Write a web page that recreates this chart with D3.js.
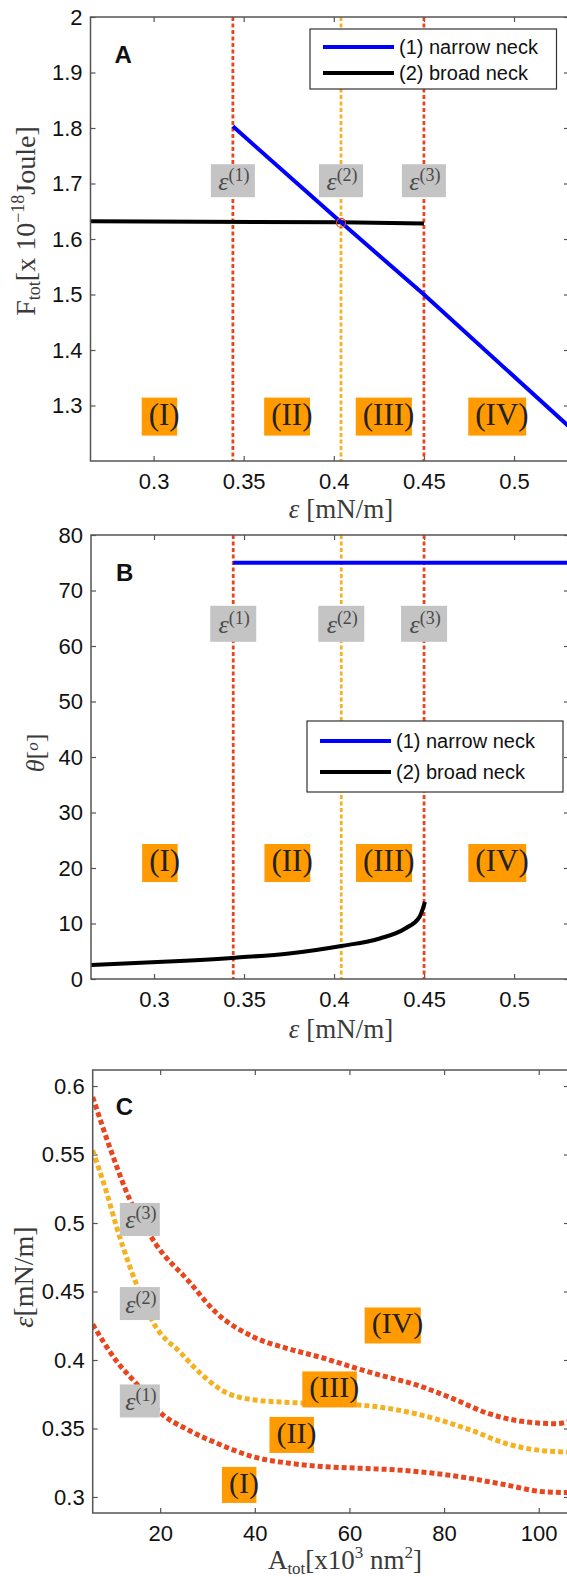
<!doctype html>
<meta charset="utf-8">
<title>Neck free energy and angle vs tension</title>
<script src="https://cdn.jsdelivr.net/npm/d3@7"></script>
<style>
body { margin: 0; background: #fff; }
</style>
<body>
<script>
// critical tensions eps(1..3) and the four regions between them
var epsCrit = [0.344, 0.404, 0.45];
var critNames = ["(1)", "(2)", "(3)"];
var regionNames = ["(I)", "(II)", "(III)", "(IV)"];
var regionEps = [0.3059, 0.3767, 0.4304, 0.4933];
var legendNames = ["(1) narrow neck", "(2) broad neck"];
var epsTicks = [0.3, 0.35, 0.4, 0.45, 0.5];

// panel A: total free energy [x 1e-18 J]
var fNarrowEps = [0.344, 0.404, 0.45, 0.5305];
var fNarrowVal = [1.803, 1.630, 1.500, 1.262];
var fBroadEps = [0.265, 0.404, 0.45];
var fBroadVal = [1.632, 1.630, 1.628];
var fCross = [0.404, 1.629];
var fTicks = [1.3, 1.4, 1.5, 1.6, 1.7, 1.8, 1.9, 2];
var fCritY = 1.705, fRegionY = 1.28;

// panel B: contact angle theta [deg]
var thNarrowEps = [0.344, 0.5305];
var thNarrowVal = [75, 75];
var thBroadEps = [0.265, 0.305, 0.345, 0.375, 0.404, 0.4254, 0.4395, 0.4475, 0.4505];
var thBroadVal = [2.5, 3.1, 3.85, 4.6, 5.95, 7.3, 9.1, 11.2, 13.9];
var thTicks = [0, 10, 20, 30, 40, 50, 60, 70, 80];
var thCritY = 64, thRegionY = 20.9;

// panel C: critical tensions vs total area [x1e3 nm^2]
var c3Area = [5.74, 10.1, 13.6, 17.2, 19.0, 25.9, 32.0, 39.6, 47.3, 54.9, 59.5, 66.4, 74.0, 81.7, 89.3, 96.9, 103.8, 106.4];
var c3Eps  = [0.592, 0.548, 0.517, 0.495, 0.485, 0.458, 0.434, 0.417, 0.408, 0.401, 0.396, 0.389, 0.382, 0.372, 0.361, 0.355, 0.3535, 0.355];
var c2Area = [5.74, 8.7, 10.8, 13.6, 15.2, 18.6, 24.4, 28.9, 33.5, 39.6, 47.3, 54.9, 62.6, 70.2, 77.8, 85.5, 93.1, 100.8, 106.4];
var c2Eps  = [0.553, 0.522, 0.497, 0.468, 0.4535, 0.427, 0.405, 0.389, 0.377, 0.371, 0.369, 0.368, 0.367, 0.3635, 0.3574, 0.349, 0.339, 0.3338, 0.3328];
var c1Area = [5.74, 10.6, 15.2, 19.8, 25.9, 32.0, 39.6, 47.3, 54.9, 62.6, 70.2, 77.8, 85.5, 93.1, 100.8, 106.4];
var c1Eps  = [0.426, 0.400, 0.3818, 0.3623, 0.349, 0.3392, 0.3294, 0.3246, 0.3221, 0.3209, 0.3197, 0.3173, 0.3136, 0.3088, 0.3039, 0.3032];
var cCritArea = [15.7, 15.7, 15.7];
var cCritEps = [0.3701, 0.4412, 0.5026];
var cRegionArea = [37.7, 48.8, 56.8, 70.15];
var cRegionEps = [0.3088, 0.3453, 0.3785, 0.4252];
var areaTicks = [20, 40, 60, 80, 100];
var cEpsTicks = [0.3, 0.35, 0.4, 0.45, 0.5, 0.55, 0.6];

var W = 567, H = 1577;
var serif = '"Liberation Serif", "Times New Roman", serif';
var sans = 'Arial, "Liberation Sans", sans-serif';
var red = '#e8461e', yellow = '#f4b223', orange = '#ff9a00', grey = '#c4c4c4';
var critColor = [red, yellow, red];

var svg = d3.select('body').append('svg')
  .attr('width', W).attr('height', H)
  .style('display', 'block');

function zip(a, b) { return a.map(function(v, i) { return [v, b[i]]; }); }

function makePanel(o) {
  var g = svg.append('g').attr('transform', 'translate(' + o.left + ',' + o.top + ')');
  var w = o.right - o.left, h = o.bottom - o.top;
  var x = d3.scaleLinear().domain(o.xDomain).range([0, w]);
  var y = d3.scaleLinear().domain(o.yDomain).range([h, 0]);
  var fmt = function(d) { return String(d); };

  var axes = [
    g.append('g').attr('transform', 'translate(0,' + h + ')')
      .call(d3.axisBottom(x).tickValues(o.xTicks).tickSize(-5).tickPadding(12).tickFormat(fmt)),
    g.append('g')
      .call(d3.axisLeft(y).tickValues(o.yTicks).tickSize(-5).tickPadding(8).tickFormat(fmt)),
    g.append('g')
      .call(d3.axisTop(x).tickValues(o.xTicks).tickSize(-5).tickFormat('')),
    g.append('g').attr('transform', 'translate(' + w + ',0)')
      .call(d3.axisRight(y).tickValues(o.yTicks).tickSize(-5).tickFormat(''))
  ];
  axes.forEach(function(a) {
    a.select('.domain').remove();
    a.selectAll('line').attr('stroke', '#555').attr('stroke-width', 1.2);
    a.selectAll('text').attr('font-family', sans).attr('font-size', 22).attr('fill', '#111');
  });

  g.append('clipPath').attr('id', 'clip' + o.name)
    .append('rect').attr('width', w).attr('height', h);
  var plot = g.append('g').attr('clip-path', 'url(#clip' + o.name + ')');
  var top = g.append('g');
  g.append('rect').attr('width', w).attr('height', h)
    .attr('fill', 'none').attr('stroke', '#555').attr('stroke-width', 1.5);

  top.append('text').attr('x', o.letterX).attr('y', o.letterY)
    .attr('font-family', sans).attr('font-weight', 'bold').attr('font-size', 24)
    .attr('fill', '#111').text(o.name);
  return { g: g, plot: plot, top: top, x: x, y: y, w: w, h: h };
}

function drawLine(p, xs, ys, color, width, curve) {
  p.plot.append('path')
    .datum(zip(xs, ys))
    .attr('fill', 'none').attr('stroke', color).attr('stroke-width', width)
    .attr('d', d3.line().curve(curve || d3.curveLinear)
      .x(function(d) { return p.x(d[0]); })
      .y(function(d) { return p.y(d[1]); }));
}

function critLines(p) {
  p.plot.selectAll('line.crit').data(epsCrit).enter().append('line')
    .attr('class', 'crit')
    .attr('x1', function(d) { return p.x(d); }).attr('x2', function(d) { return p.x(d); })
    .attr('y1', 0).attr('y2', p.h)
    .attr('stroke', function(d, i) { return critColor[i]; })
    .attr('stroke-width', 2.8).attr('stroke-dasharray', '4,2.5');
}

function critLabel(layer, cx, cy, name, bw, bh) {
  layer.append('rect').attr('x', cx - bw / 2).attr('y', cy - bh / 2)
    .attr('width', bw).attr('height', bh).attr('fill', grey);
  var t = layer.append('text').attr('x', cx + 1).attr('y', cy + 9)
    .attr('text-anchor', 'middle').attr('font-family', serif).attr('fill', '#4a4a4a');
  t.append('tspan').attr('font-size', 26).attr('font-style', 'italic').text('\u03b5');
  t.append('tspan').attr('font-size', 18).attr('dy', -9).text(name);
}

function regionLabel(layer, cx, cy, name, bh, size) {
  var box = layer.append('rect');
  var t = layer.append('text').attr('x', cx).attr('y', cy + 8)
    .attr('text-anchor', 'middle').attr('font-family', serif)
    .attr('font-size', size).attr('fill', '#222').text(name);
  var tw = t.node().getComputedTextLength();
  box.attr('x', cx - tw / 2 - 7).attr('y', cy - bh / 2)
    .attr('width', tw + 4.5).attr('height', bh).attr('fill', orange);
}

function legend(layer, x0, y0, w, h, rowY) {
  layer.append('rect').attr('x', x0).attr('y', y0).attr('width', w).attr('height', h)
    .attr('fill', '#fff').attr('stroke', '#333').attr('stroke-width', 1.2);
  var colors = ['#0000ff', '#000'];
  legendNames.forEach(function(n, i) {
    layer.append('line').attr('x1', x0 + 13).attr('x2', x0 + 84)
      .attr('y1', y0 + rowY[i]).attr('y2', y0 + rowY[i])
      .attr('stroke', colors[i]).attr('stroke-width', 4);
    layer.append('text').attr('x', x0 + 89).attr('y', y0 + rowY[i] + 7)
      .attr('font-family', sans).attr('font-size', 20).attr('fill', '#111').text(n);
  });
}

// ---------- panel A
var pA = makePanel({ name: 'A', left: 90.5, right: 569, top: 17, bottom: 461,
  xDomain: [0.265, 0.5305], yDomain: [1.2, 2], xTicks: epsTicks, yTicks: fTicks,
  letterX: 24, letterY: 46 });
critLines(pA);
drawLine(pA, fBroadEps, fBroadVal, '#000', 4);
drawLine(pA, fNarrowEps, fNarrowVal, '#0000ff', 4);
pA.plot.append('circle').attr('cx', pA.x(fCross[0])).attr('cy', pA.y(fCross[1]))
  .attr('r', 4.5).attr('fill', 'none').attr('stroke', red).attr('stroke-width', 1.2);
epsCrit.forEach(function(e, i) {
  critLabel(pA.top, pA.x(e), pA.y(fCritY), critNames[i], 44, 33);
});
regionEps.forEach(function(e, i) {
  regionLabel(pA.top, pA.x(e), pA.y(fRegionY), regionNames[i], 38, 31);
});
legend(pA.top, 310 - 90.5, 29 - 17, 246.5, 60, [18, 44]);

// ---------- panel B
var pB = makePanel({ name: 'B', left: 91, right: 569, top: 535, bottom: 979,
  xDomain: [0.265, 0.5305], yDomain: [0, 80], xTicks: epsTicks, yTicks: thTicks,
  letterX: 25, letterY: 46 });
critLines(pB);
drawLine(pB, thBroadEps, thBroadVal, '#000', 4, d3.curveMonotoneX);
drawLine(pB, thNarrowEps, thNarrowVal, '#0000ff', 4);
epsCrit.forEach(function(e, i) {
  critLabel(pB.top, pB.x(e), pB.y(thCritY), critNames[i], 46, 36);
});
regionEps.forEach(function(e, i) {
  regionLabel(pB.top, pB.x(e), pB.y(thRegionY), regionNames[i], 38, 31);
});
legend(pB.top, 307 - 91, 721 - 535, 256, 71, [20, 51]);

// ---------- panel C
var pC = makePanel({ name: 'C', left: 92.7, right: 569, top: 1070, bottom: 1513,
  xDomain: [5.74, 106.4], yDomain: [0.2883, 0.6117], xTicks: areaTicks, yTicks: cEpsTicks,
  letterX: 23, letterY: 45 });
[[c1Area, c1Eps], [c2Area, c2Eps], [c3Area, c3Eps]].forEach(function(c, i) {
  pC.plot.append('path')
    .datum(zip(c[0], c[1]))
    .attr('fill', 'none').attr('stroke', critColor[i]).attr('stroke-width', 5)
    .attr('stroke-dasharray', '5,3')
    .attr('d', d3.line().curve(d3.curveMonotoneX)
      .x(function(d) { return pC.x(d[0]); })
      .y(function(d) { return pC.y(d[1]); }));
});
cCritArea.forEach(function(a, i) {
  critLabel(pC.top, pC.x(a), pC.y(cCritEps[i]), critNames[i], 40, 33);
});
cRegionArea.forEach(function(a, i) {
  regionLabel(pC.top, pC.x(a), pC.y(cRegionEps[i]), regionNames[i], 36, 30);
});

// ---------- axis titles
function serifText(x, y, rotate, size) {
  var t = svg.append('text').attr('font-family', serif).attr('font-size', size)
    .attr('fill', '#3a3a3a').attr('text-anchor', 'middle');
  if (rotate) t.attr('transform', 'translate(' + x + ',' + y + ') rotate(-90)');
  else t.attr('x', x).attr('y', y);
  return t;
}
function epsTitle(t) {
  t.append('tspan').attr('font-style', 'italic').text('\u03b5');
  t.append('tspan').text(' [mN/m]');
}
epsTitle(serifText(341, 518, false, 27));
epsTitle(serifText(341, 1038, false, 27));

var tA = serifText(35, 221, true, 28);
tA.append('tspan').text('F');
tA.append('tspan').attr('font-size', 18).attr('dy', 5).text('tot');
tA.append('tspan').attr('dy', -5).text('[x 10');
tA.append('tspan').attr('font-size', 18).attr('dy', -11).text('\u221218');
tA.append('tspan').attr('dy', 11).text('Joule]');

var tB = serifText(44, 753, true, 26);
tB.append('tspan').attr('font-style', 'italic').text('\u03b8');
tB.append('tspan').text('[');
tB.append('tspan').attr('font-style', 'italic').attr('font-size', 17).attr('dy', -6).text('o');
tB.append('tspan').attr('dy', 6).text(']');

var tC = serifText(33, 1277, true, 28);
tC.append('tspan').attr('font-style', 'italic').text('\u03b5');
tC.append('tspan').text('[mN/m]');

var tX = serifText(345, 1569, false, 27);
tX.append('tspan').text('A');
tX.append('tspan').attr('font-size', 17).attr('dy', 5).text('tot');
tX.append('tspan').attr('dy', -5).text('[x10');
tX.append('tspan').attr('font-size', 17).attr('dy', -11).text('3');
tX.append('tspan').attr('dy', 11).text(' nm');
tX.append('tspan').attr('font-size', 17).attr('dy', -11).text('2');
tX.append('tspan').attr('dy', 11).text(']');
</script>
</body>
